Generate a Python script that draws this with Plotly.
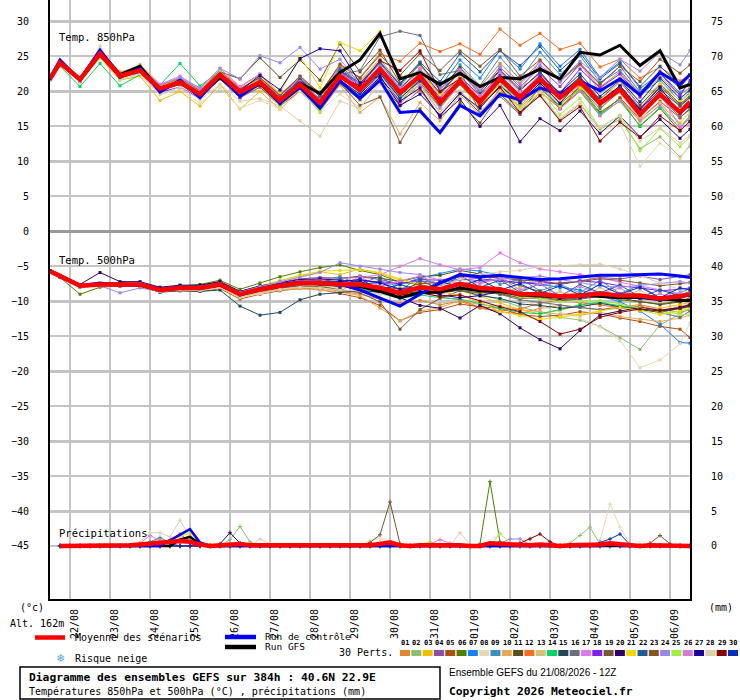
import plotly.graph_objects as go

# forecast hours (from 21/08 12Z) of the temperature points, 12-hourly after day 1
T_HOURS = [0, 6, 18, 30, 42, 54, 66, 78, 90, 102, 114, 126, 138, 150, 162, 174, 186,
           198, 210, 222, 234, 246, 258, 270, 282, 294, 306, 318, 330, 342, 354, 366, 378, 384]
# 6-hourly precipitation steps
P_HOURS = list(range(6, 385, 6))
DAY_HOURS = list(range(12, 384, 24))
DAY_LABELS = ['22/08', '23/08', '24/08', '25/08', '26/08', '27/08', '28/08', '29/08',
              '30/08', '31/08', '01/09', '02/09', '03/09', '04/09', '05/09', '06/09']

LEFT_TICKS = [30, 25, 20, 15, 10, 5, 0, -5, -10, -15, -20, -25, -30, -35, -40, -45]
THICK_TICKS = [30, 20, 10, -10, -20, -30, -40]
RIGHT_TICKS = [75, 70, 65, 60, 55, 50, 45, 40, 35, 30, 25, 20, 15, 10, 5, 0]

MEMBER_COLORS = ['#e8822e', '#88c070', '#f0c000', '#8850b0', '#b05010', '#508000',
                 '#1080ff', '#e8d8b0', '#3890c0', '#e8a858', '#604c1c', '#f86c20',
                 '#d0c078', '#00d860', '#204858', '#687078', '#e078f0', '#8020f0',
                 '#785830', '#300070', '#f0d800', '#205c98', '#885420', '#9888f0',
                 '#a0f040', '#d878d8', '#1800a0', '#e0d0a8', '#880000', '#0030c0']

# ---- Temp 850 hPa ----
T850_MEAN = [21.8, 24.1, 21.7, 25.4, 22.2, 23.0, 20.4, 21.3, 19.6, 22.4, 19.9, 21.3, 18.7, 21.0, 18.4, 22.2, 20.2,
             23.2, 19.8, 22.2, 18.4, 21.5, 18.5, 21.8, 19.1, 21.8, 19.1, 21.5, 18.3, 20.3, 16.7, 19.6, 17.0, 18.5]
T850_CTRL = [21.9, 24.5, 21.6, 25.9, 22.0, 23.3, 19.9, 21.6, 19.1, 22.3, 19.3, 21.2, 18.3, 20.6, 17.6, 21.5, 19.0,
             21.6, 17.0, 17.2, 14.1, 18.0, 16.5, 19.6, 18.8, 20.5, 19.6, 21.5, 20.1, 21.8, 19.5, 22.7, 21.0, 22.4]
T850_GFS = [21.8, 24.2, 21.8, 25.8, 22.4, 23.6, 20.2, 21.4, 19.4, 22.0, 19.6, 21.1, 18.5, 21.2, 19.7, 22.7, 24.5,
            28.3, 21.8, 22.7, 21.0, 22.6, 20.7, 22.0, 21.8, 23.2, 21.8, 25.6, 25.2, 26.6, 23.7, 25.8, 20.5, 21.0]
T850_M01 = [21.9, 24.0, 21.5, 25.2, 22.6, 23.8, 21.0, 21.8, 20.3, 23.0, 20.6, 22.4, 19.5, 22.0, 19.8, 23.5, 21.5,
            24.6, 21.0, 23.8, 20.1, 23.4, 20.6, 24.0, 21.2, 24.3, 21.5, 23.8, 20.6, 22.8, 19.4, 22.1, 19.5, 20.6]
T850_M02 = [21.7, 24.2, 21.8, 25.3, 22.0, 22.6, 20.0, 21.2, 19.3, 22.0, 19.4, 20.8, 18.0, 20.4, 17.6, 21.5, 19.3,
            22.4, 18.8, 21.1, 17.0, 20.1, 16.8, 19.9, 16.9, 19.5, 16.0, 18.2, 14.6, 16.0, 11.8, 13.5, 10.6, 12.2]
T850_M03 = [21.6, 23.8, 21.4, 24.8, 21.6, 22.2, 18.7, 20.0, 17.9, 21.0, 17.5, 20.0, 17.4, 20.2, 17.0, 21.3, 19.0,
            22.0, 18.4, 21.6, 17.6, 21.0, 17.7, 20.8, 18.0, 20.6, 17.6, 20.1, 16.9, 19.0, 15.6, 18.1, 15.5, 17.0]
T850_M04 = [21.8, 24.1, 21.9, 25.6, 22.4, 23.3, 20.7, 21.9, 20.1, 22.9, 20.4, 22.0, 19.4, 21.9, 19.6, 23.0, 21.0,
            24.0, 20.5, 23.0, 19.6, 22.8, 20.0, 23.5, 20.6, 23.4, 20.7, 23.9, 21.0, 23.6, 19.9, 22.9, 20.5, 22.4]
T850_M05 = [21.8, 24.0, 21.6, 25.1, 22.1, 22.8, 20.1, 21.0, 19.2, 21.8, 19.1, 20.6, 17.9, 20.0, 17.3, 21.0, 18.8,
            21.4, 17.9, 20.2, 16.5, 19.8, 16.9, 20.2, 17.6, 20.5, 17.8, 20.0, 16.6, 19.1, 16.0, 18.6, 16.2, 17.6]
T850_M06 = [21.9, 24.3, 21.8, 25.5, 22.3, 23.1, 20.5, 21.6, 19.9, 22.6, 19.9, 21.5, 18.8, 21.3, 18.9, 22.8, 20.5,
            23.6, 19.5, 21.3, 17.8, 21.0, 18.0, 21.4, 18.6, 21.5, 18.2, 20.6, 17.0, 18.9, 15.0, 17.6, 14.3, 15.8]
T850_M07 = [21.7, 24.0, 21.7, 25.3, 22.0, 22.9, 20.2, 21.2, 19.5, 22.3, 19.7, 21.6, 19.0, 21.8, 19.5, 23.3, 21.2,
            24.3, 20.8, 23.9, 20.7, 24.5, 21.9, 25.9, 23.2, 26.8, 23.6, 26.0, 22.0, 24.2, 20.4, 22.6, 19.8, 21.2]
T850_M08 = [21.6, 23.9, 21.3, 24.9, 21.7, 22.4, 19.5, 20.3, 18.3, 20.5, 17.6, 18.7, 17.5, 20.0, 17.2, 19.6, 17.7,
            21.0, 17.5, 20.6, 16.9, 20.2, 17.1, 20.0, 16.8, 19.3, 15.9, 18.0, 14.2, 15.4, 9.3, 12.6, 10.4, 12.5]
T850_M09 = [21.8, 24.1, 21.8, 25.4, 22.3, 23.2, 20.6, 21.5, 19.8, 22.7, 20.2, 21.8, 19.2, 21.5, 18.9, 22.4, 20.0,
            22.9, 19.3, 22.8, 19.6, 23.8, 20.8, 24.9, 21.7, 25.6, 22.4, 25.1, 21.3, 23.0, 19.6, 21.6, 18.6, 19.9]
T850_M10 = [21.8, 24.2, 21.9, 25.7, 22.8, 23.5, 20.9, 21.7, 19.8, 22.5, 19.7, 21.0, 18.2, 20.3, 17.7, 20.9, 17.0,
            19.2, 13.9, 18.4, 15.8, 19.5, 16.6, 20.4, 17.8, 21.1, 18.4, 21.0, 17.8, 20.0, 16.5, 19.2, 16.8, 18.1]
T850_M11 = [21.8, 24.0, 21.4, 25.0, 22.0, 22.9, 20.3, 21.6, 20.0, 22.8, 21.8, 24.8, 22.0, 24.5, 21.6, 26.8, 22.8,
            25.9, 21.2, 24.0, 20.3, 23.4, 20.0, 23.1, 20.3, 22.6, 19.6, 22.0, 18.9, 21.4, 18.0, 21.0, 18.2, 19.4]
T850_M12 = [21.9, 24.2, 21.8, 25.6, 22.5, 23.4, 20.8, 21.8, 19.9, 22.8, 20.3, 21.9, 19.4, 22.0, 19.8, 23.7, 22.0,
            25.4, 24.3, 26.9, 25.7, 26.8, 25.3, 28.9, 26.6, 28.3, 26.0, 26.9, 23.5, 24.6, 21.9, 23.5, 21.5, 22.3]
T850_M13 = [21.7, 23.9, 21.6, 25.2, 22.1, 23.1, 20.4, 21.4, 19.8, 22.6, 20.2, 21.7, 18.9, 21.4, 18.8, 22.3, 20.4,
            23.6, 20.2, 22.7, 19.3, 22.3, 19.0, 22.6, 19.7, 22.2, 19.2, 21.6, 18.0, 19.8, 16.0, 18.4, 15.2, 16.3]
T850_M14 = [21.8, 23.6, 20.7, 24.0, 20.8, 22.4, 20.9, 24.0, 20.8, 22.9, 19.6, 21.0, 18.6, 20.8, 18.0, 21.6, 19.6,
            22.6, 19.1, 21.8, 18.0, 21.2, 18.1, 21.1, 18.3, 20.9, 17.9, 20.3, 16.8, 18.6, 15.1, 17.7, 14.8, 16.5]
T850_M15 = [21.8, 24.1, 21.7, 25.3, 22.2, 22.9, 20.2, 21.0, 19.3, 22.1, 19.6, 21.1, 18.4, 20.9, 18.2, 21.9, 20.0,
            23.3, 20.4, 23.1, 19.8, 22.9, 19.6, 23.0, 20.1, 22.8, 19.5, 22.1, 18.6, 20.7, 17.3, 20.2, 17.9, 19.1]
T850_M16 = [21.8, 24.1, 21.8, 25.5, 22.3, 23.1, 20.5, 21.5, 19.7, 22.4, 20.0, 21.3, 18.6, 20.8, 18.1, 22.4, 23.0,
            27.8, 28.6, 28.0, 22.4, 23.0, 16.9, 19.3, 16.7, 19.9, 17.6, 20.6, 17.5, 20.1, 16.6, 19.3, 16.3, 17.4]
T850_M17 = [21.9, 24.2, 21.9, 25.7, 22.6, 23.5, 21.0, 22.2, 20.4, 23.3, 20.7, 22.5, 19.6, 22.1, 19.2, 22.8, 19.9,
            22.1, 18.2, 21.0, 17.6, 21.1, 18.2, 22.8, 20.0, 24.4, 21.3, 24.1, 19.9, 21.9, 17.5, 19.7, 15.0, 15.2]
T850_M18 = [21.8, 24.0, 21.6, 25.0, 22.0, 22.7, 19.9, 20.6, 19.0, 21.8, 19.1, 21.5, 18.9, 21.6, 19.4, 22.9, 20.8,
            23.0, 19.7, 22.5, 19.1, 22.1, 19.4, 22.3, 19.5, 22.4, 19.8, 23.2, 20.5, 22.5, 19.2, 22.6, 19.4, 21.6]
T850_M19 = [21.7, 23.9, 21.5, 25.0, 21.9, 22.8, 20.2, 21.1, 19.4, 22.2, 19.6, 21.0, 18.3, 20.6, 17.9, 21.2, 18.0,
            19.2, 12.7, 17.5, 14.3, 18.4, 15.5, 19.6, 16.9, 20.6, 17.5, 20.9, 17.9, 20.8, 17.6, 20.7, 18.0, 19.2]
T850_M20 = [21.8, 24.1, 21.7, 25.3, 22.1, 22.9, 20.3, 21.1, 19.4, 22.2, 19.7, 21.1, 18.5, 20.8, 18.2, 21.7, 19.4,
            22.0, 18.6, 20.5, 16.3, 18.9, 15.0, 18.0, 12.8, 16.1, 14.4, 17.2, 14.0, 16.5, 13.5, 16.0, 13.3, 14.6]
T850_M21 = [21.8, 24.1, 21.6, 25.4, 22.3, 23.2, 20.6, 21.5, 19.8, 22.6, 20.0, 22.0, 19.8, 25.0, 20.5, 27.0, 25.8,
            28.6, 22.0, 23.0, 19.5, 22.0, 18.0, 20.8, 17.4, 19.9, 17.8, 20.5, 18.7, 21.4, 18.5, 21.1, 18.7, 19.6]
T850_M22 = [21.8, 24.1, 21.8, 25.4, 22.2, 23.0, 20.4, 21.3, 19.6, 22.5, 20.0, 21.6, 19.1, 21.7, 19.3, 23.0, 21.2,
            24.1, 21.0, 24.2, 21.4, 25.4, 22.8, 25.8, 23.7, 26.4, 23.0, 25.5, 21.8, 24.0, 20.7, 23.6, 20.9, 22.4]
T850_M23 = [21.8, 24.0, 21.7, 25.3, 22.2, 23.0, 20.5, 21.6, 19.9, 22.8, 20.3, 22.0, 19.4, 22.2, 19.7, 23.9, 21.9,
            25.2, 22.3, 25.4, 23.0, 25.8, 23.6, 26.0, 22.2, 24.5, 21.6, 24.0, 21.1, 23.6, 21.4, 24.6, 22.6, 23.8]
T850_M24 = [21.8, 24.2, 21.9, 25.6, 22.5, 23.4, 20.9, 22.0, 20.5, 23.3, 21.8, 25.1, 24.1, 26.3, 23.2, 24.6, 21.0,
            23.5, 20.6, 23.1, 20.4, 23.0, 20.1, 23.4, 21.0, 23.8, 21.5, 24.3, 22.0, 24.6, 22.9, 25.6, 23.8, 25.8]
T850_M25 = [21.8, 24.1, 21.7, 25.3, 22.2, 23.4, 20.7, 21.7, 19.9, 22.9, 20.1, 21.2, 17.9, 20.3, 17.2, 21.5, 19.5,
            22.8, 19.8, 22.1, 18.6, 21.4, 18.2, 21.0, 17.6, 20.4, 16.7, 19.0, 14.8, 16.6, 11.5, 14.7, 12.1, 13.5]
T850_M26 = [21.8, 24.0, 21.7, 25.4, 22.3, 23.1, 20.5, 21.5, 19.8, 22.6, 20.1, 21.5, 18.9, 21.4, 18.8, 22.6, 20.7,
            23.6, 20.5, 23.3, 20.2, 23.1, 19.4, 22.0, 18.3, 20.6, 17.5, 20.0, 16.5, 18.7, 15.8, 18.0, 14.7, 16.2]
T850_M27 = [21.8, 24.1, 21.7, 25.3, 22.3, 23.1, 20.4, 21.3, 19.7, 22.4, 20.1, 22.3, 20.2, 24.7, 26.1, 25.8, 21.2,
            22.2, 18.0, 19.6, 16.6, 19.7, 17.6, 20.8, 18.4, 21.2, 18.3, 21.6, 18.6, 20.8, 17.4, 20.6, 16.8, 17.9]
T850_M28 = [21.7, 23.9, 21.4, 26.5, 21.7, 22.5, 19.6, 20.6, 18.8, 21.0, 18.6, 19.0, 17.9, 15.8, 13.6, 18.6, 17.6,
            21.4, 19.0, 22.0, 18.6, 21.5, 18.4, 20.9, 17.3, 19.8, 16.2, 18.4, 14.9, 16.5, 12.9, 14.8, 12.6, 13.7]
T850_M29 = [21.8, 24.1, 21.7, 25.4, 22.2, 23.0, 20.4, 21.3, 19.6, 22.3, 19.9, 21.2, 18.6, 20.9, 18.3, 22.0, 20.8,
            24.4, 23.0, 25.8, 20.0, 21.8, 17.9, 20.6, 17.0, 19.4, 15.8, 17.8, 12.9, 15.6, 13.4, 16.5, 14.4, 15.7]
T850_M30 = [21.8, 24.1, 21.8, 25.5, 22.4, 23.2, 20.6, 21.5, 19.7, 22.3, 19.6, 20.9, 18.2, 20.5, 17.8, 21.6, 19.6,
            22.6, 19.0, 21.6, 18.2, 21.2, 18.9, 21.5, 19.4, 22.0, 19.8, 22.5, 19.3, 21.6, 18.5, 21.9, 19.0, 20.2]

# ---- Temp 500 hPa ----
T500_MEAN = [-5.7, -6.4, -7.8, -7.6, -7.6, -7.6, -8.4, -8.1, -8.1, -7.6, -9.0, -8.3, -7.8, -7.4, -7.4, -7.6, -7.6,
             -8.1, -8.8, -8.0, -8.3, -7.5, -8.1, -8.3, -9.0, -9.0, -9.3, -9.2, -8.9, -9.2, -9.2, -9.6, -9.3, -9.0]
T500_CTRL = [-5.6, -6.5, -7.8, -7.4, -7.7, -7.6, -8.3, -8.0, -8.2, -7.5, -9.1, -8.2, -7.6, -7.3, -7.3, -7.6, -8.4,
             -9.6, -10.7, -9.0, -7.4, -6.2, -6.5, -6.3, -6.6, -6.9, -6.8, -6.5, -6.3, -6.3, -6.2, -6.1, -6.4, -6.6]
T500_GFS = [-5.7, -6.4, -7.7, -7.6, -7.5, -7.7, -8.4, -8.1, -8.1, -7.7, -9.0, -8.3, -7.8, -7.4, -7.5, -7.6, -7.9,
            -8.6, -9.5, -8.8, -8.7, -8.1, -8.5, -8.6, -9.1, -9.3, -9.4, -9.1, -9.3, -9.5, -9.4, -9.7, -9.9, -9.9]
T500_M01 = [-5.7, -6.5, -7.9, -7.7, -7.9, -7.8, -8.6, -8.3, -8.0, -7.4, -9.2, -8.7, -8.3, -8.0, -8.1, -8.6, -9.0,
            -9.7, -10.3, -9.9, -10.5, -10.0, -11.0, -11.5, -11.8, -11.0, -10.6, -10.9, -11.2, -10.8, -10.5, -11.1, -11.6, -11.2]
T500_M02 = [-5.6, -6.3, -7.7, -7.5, -7.4, -7.5, -8.3, -8.2, -8.3, -7.8, -9.3, -8.4, -8.0, -7.6, -7.8, -8.0, -7.9,
            -8.4, -9.0, -8.4, -8.6, -8.2, -9.0, -9.8, -10.8, -11.5, -12.3, -12.7, -13.6, -15.2, -16.9, -13.4, -11.8, -11.0]
T500_M03 = [-5.8, -6.4, -7.8, -7.5, -7.5, -7.6, -8.3, -7.9, -7.8, -7.3, -8.6, -7.8, -7.0, -6.3, -5.8, -6.2, -5.4,
            -6.0, -7.0, -7.3, -8.0, -8.5, -9.3, -10.2, -11.2, -11.8, -11.3, -10.6, -10.1, -10.9, -11.4, -11.0, -10.5, -10.2]
T500_M04 = [-5.7, -6.4, -7.8, -7.6, -7.5, -7.5, -8.2, -7.8, -7.7, -7.2, -8.6, -7.9, -7.3, -6.8, -6.6, -6.7, -6.5,
            -6.9, -7.5, -7.1, -7.4, -6.8, -7.1, -7.0, -7.4, -7.2, -7.6, -7.1, -6.6, -6.8, -6.4, -6.9, -6.5, -6.2]
T500_M05 = [-5.7, -6.5, -8.0, -7.8, -7.8, -7.9, -8.7, -8.5, -8.6, -8.2, -9.7, -9.0, -8.5, -8.2, -8.3, -8.9, -9.5,
            -10.6, -12.8, -11.6, -11.2, -10.4, -10.8, -11.0, -11.9, -12.2, -12.0, -11.5, -11.8, -12.4, -12.9, -13.6, -14.0, -15.2]
T500_M06 = [-5.6, -6.6, -9.0, -8.0, -7.8, -7.4, -8.1, -7.8, -7.6, -7.0, -8.3, -7.4, -6.5, -5.8, -5.2, -4.8, -5.6,
            -6.2, -7.3, -7.6, -8.3, -7.7, -8.6, -9.0, -9.6, -9.4, -9.8, -9.6, -9.2, -9.8, -10.1, -10.4, -10.0, -9.5]
T500_M07 = [-5.7, -6.4, -7.7, -7.5, -7.6, -7.7, -8.5, -8.2, -8.2, -7.8, -9.0, -8.5, -8.2, -7.9, -7.7, -7.8, -7.5,
            -7.4, -7.6, -6.7, -6.1, -5.4, -5.7, -6.3, -7.2, -7.6, -8.1, -8.4, -9.2, -10.1, -11.4, -13.3, -15.9, -16.0]
T500_M08 = [-5.7, -6.3, -7.7, -7.6, -7.7, -7.8, -8.6, -8.4, -8.5, -8.1, -9.5, -8.9, -8.3, -7.8, -7.9, -8.1, -8.0,
            -8.4, -8.9, -8.3, -8.1, -6.9, -7.6, -8.6, -9.8, -10.7, -11.6, -12.4, -13.7, -15.6, -19.5, -18.4, -16.1, -13.1]
T500_M09 = [-5.7, -6.4, -7.8, -7.6, -7.6, -7.6, -8.4, -8.0, -8.0, -7.5, -8.9, -8.1, -7.6, -7.2, -7.0, -6.5, -7.6,
            -6.4, -8.4, -6.6, -7.8, -6.9, -5.9, -7.6, -6.8, -8.5, -7.6, -8.8, -7.0, -8.9, -7.7, -9.6, -8.8, -8.2]
T500_M10 = [-5.8, -6.5, -7.9, -7.8, -7.8, -7.8, -8.7, -8.4, -8.4, -8.0, -9.4, -8.8, -8.4, -8.2, -8.4, -8.7, -9.2,
            -11.0, -12.8, -11.4, -10.9, -9.9, -10.5, -10.7, -11.2, -11.5, -11.9, -12.0, -11.6, -12.2, -12.6, -12.9, -12.4, -12.0]
T500_M11 = [-5.7, -6.4, -7.8, -7.5, -7.4, -7.4, -8.2, -7.9, -7.9, -7.4, -8.7, -8.0, -7.5, -7.1, -6.9, -6.8, -6.4,
            -6.7, -7.2, -6.5, -6.3, -5.6, -6.1, -6.8, -7.8, -8.6, -9.2, -9.5, -9.1, -9.6, -10.0, -10.5, -10.1, -9.8]
T500_M12 = [-5.6, -6.3, -7.7, -7.5, -7.5, -7.5, -8.3, -8.0, -8.0, -7.4, -8.8, -8.1, -7.6, -7.2, -7.1, -7.3, -7.4,
            -8.0, -8.9, -8.7, -9.4, -9.8, -10.9, -11.4, -11.1, -10.3, -9.8, -10.2, -10.6, -10.9, -10.7, -11.3, -10.8, -10.4]
T500_M13 = [-5.7, -6.4, -7.8, -7.6, -7.6, -7.6, -8.5, -8.2, -8.3, -7.9, -9.3, -8.6, -8.1, -7.8, -7.7, -8.5, -7.2,
            -8.9, -8.0, -8.8, -7.4, -8.3, -7.1, -8.9, -8.0, -9.7, -8.6, -9.8, -8.0, -9.6, -8.4, -10.1, -9.3, -8.8]
T500_M14 = [-5.7, -6.4, -7.7, -7.5, -7.5, -7.4, -8.2, -7.8, -7.8, -7.3, -8.8, -8.1, -7.6, -7.3, -7.5, -7.9, -8.2,
            -8.9, -9.6, -9.1, -9.5, -9.7, -10.4, -11.0, -11.6, -11.8, -11.2, -10.5, -10.2, -10.6, -11.0, -11.5, -11.1, -10.8]
T500_M15 = [-5.7, -6.4, -7.8, -7.6, -7.7, -7.8, -8.7, -8.5, -8.6, -8.4, -10.7, -12.0, -11.6, -9.8, -9.0, -8.8, -8.5,
            -8.7, -9.0, -8.6, -8.9, -8.4, -9.2, -9.6, -10.4, -10.6, -11.0, -10.8, -10.3, -10.8, -11.2, -11.6, -11.0, -10.6]
T500_M16 = [-5.7, -6.4, -7.8, -7.6, -7.6, -7.7, -8.5, -8.2, -8.3, -7.8, -9.2, -8.5, -8.0, -7.6, -7.5, -7.7, -7.6,
            -8.1, -8.8, -8.0, -8.3, -7.6, -8.4, -9.0, -9.8, -10.2, -10.6, -10.9, -11.2, -11.0, -10.8, -11.6, -12.3, -11.4]
T500_M17 = [-5.7, -6.4, -7.8, -7.6, -7.6, -7.5, -8.3, -8.0, -8.0, -7.5, -8.9, -8.1, -7.6, -7.1, -6.9, -6.8, -6.6,
            -6.2, -5.0, -3.9, -4.8, -5.5, -5.2, -3.1, -4.5, -5.4, -5.8, -6.2, -6.6, -7.3, -7.8, -8.4, -8.9, -9.4]
T500_M18 = [-5.7, -6.4, -7.8, -7.6, -7.6, -7.6, -8.4, -8.1, -8.1, -7.6, -9.0, -8.2, -7.7, -7.3, -7.2, -7.3, -7.1,
            -7.2, -7.5, -6.9, -7.0, -6.5, -6.8, -7.1, -7.4, -7.6, -7.4, -7.1, -7.3, -7.8, -8.1, -8.5, -8.3, -8.1]
T500_M19 = [-5.7, -6.5, -7.9, -7.7, -7.8, -7.8, -8.6, -8.3, -8.4, -7.9, -9.3, -8.6, -8.1, -7.8, -7.9, -8.3, -8.8,
            -10.1, -14.0, -11.2, -9.6, -8.5, -8.8, -8.9, -9.5, -9.6, -9.9, -9.7, -9.3, -9.4, -9.5, -9.9, -9.4, -9.1]
T500_M20 = [-5.7, -6.3, -7.6, -5.9, -7.2, -7.2, -8.0, -7.7, -7.7, -7.2, -8.6, -7.8, -7.3, -6.9, -6.8, -7.0, -7.2,
            -8.1, -9.5, -10.6, -11.0, -12.4, -10.6, -11.8, -13.8, -15.5, -16.8, -14.2, -12.0, -11.4, -10.9, -11.3, -10.9, -10.5]
T500_M21 = [-5.7, -6.4, -7.8, -7.6, -7.6, -7.5, -8.3, -8.0, -8.0, -7.5, -8.8, -8.0, -7.3, -6.5, -5.7, -5.6, -5.5,
            -5.9, -6.8, -7.6, -8.6, -9.2, -10.1, -11.5, -12.1, -12.6, -12.3, -11.9, -11.4, -10.9, -11.3, -11.9, -11.4, -11.0]
T500_M22 = [-5.7, -6.4, -7.8, -7.6, -7.6, -7.6, -8.4, -8.1, -8.1, -7.6, -9.0, -8.3, -7.7, -7.3, -7.2, -6.8, -7.9,
            -7.0, -9.2, -7.0, -8.3, -6.3, -8.0, -7.0, -8.7, -7.5, -9.3, -7.6, -8.8, -7.7, -9.4, -8.4, -9.2, -8.6]
T500_M23 = [-5.7, -6.5, -7.9, -7.7, -7.7, -7.7, -8.5, -8.2, -8.2, -7.8, -9.2, -8.4, -7.9, -7.5, -7.4, -7.6, -7.5,
            -7.9, -8.3, -7.5, -7.3, -6.4, -6.6, -6.6, -7.0, -7.1, -7.5, -7.2, -6.8, -7.0, -7.4, -7.8, -7.5, -7.3]
T500_M24 = [-5.7, -6.5, -8.0, -7.8, -8.8, -8.1, -8.6, -8.2, -8.1, -7.5, -8.7, -7.9, -7.2, -6.6, -5.9, -4.5, -5.0,
            -5.4, -5.9, -6.2, -7.0, -7.4, -7.3, -6.9, -6.6, -6.4, -6.9, -7.3, -7.8, -8.0, -7.7, -7.4, -7.2, -7.4]
T500_M25 = [-5.7, -6.4, -7.8, -7.6, -7.6, -7.6, -8.4, -8.1, -8.1, -7.6, -9.0, -8.3, -7.8, -7.4, -7.3, -7.5, -7.5,
            -8.0, -8.7, -8.0, -8.2, -7.6, -8.2, -8.6, -9.4, -9.6, -10.1, -10.0, -9.9, -10.4, -10.9, -11.5, -11.8, -12.0]
T500_M26 = [-5.7, -6.4, -7.8, -7.6, -7.6, -7.6, -8.4, -8.1, -8.0, -7.5, -8.9, -8.2, -7.7, -7.2, -7.1, -7.8, -6.5,
            -7.9, -7.1, -6.4, -7.6, -6.0, -7.5, -6.6, -8.4, -7.5, -9.2, -7.9, -8.9, -8.1, -9.8, -8.9, -9.9, -9.0]
T500_M27 = [-5.7, -6.4, -7.8, -7.6, -7.6, -7.6, -8.4, -8.1, -8.1, -7.6, -9.0, -8.3, -7.8, -7.4, -7.3, -7.2, -6.9,
            -7.4, -8.3, -8.1, -9.1, -9.5, -9.2, -8.6, -8.9, -9.1, -9.6, -9.5, -9.1, -9.4, -9.6, -9.9, -9.5, -9.2]
T500_M28 = [-5.7, -6.4, -7.9, -7.7, -7.7, -7.7, -8.6, -8.4, -8.5, -8.0, -9.4, -8.8, -8.3, -8.0, -8.1, -8.4, -8.5,
            -9.0, -9.4, -8.7, -8.0, -6.8, -6.2, -5.8, -5.6, -5.0, -4.9, -4.8, -4.7, -5.4, -6.3, -7.4, -8.3, -8.8]
T500_M29 = [-5.7, -6.4, -7.8, -7.6, -7.6, -7.6, -8.4, -8.1, -8.1, -7.7, -9.1, -8.4, -7.9, -7.5, -7.5, -7.7, -7.8,
            -8.4, -9.1, -8.8, -9.3, -9.1, -10.0, -10.8, -11.5, -12.9, -14.7, -14.0, -12.3, -11.6, -11.1, -11.4, -11.0, -10.7]
T500_M30 = [-5.7, -6.4, -7.8, -7.6, -7.6, -7.6, -8.4, -8.1, -8.1, -7.6, -9.0, -8.3, -7.8, -7.4, -7.3, -8.0, -6.8,
            -8.4, -7.6, -8.5, -7.2, -7.9, -6.9, -8.4, -7.5, -8.9, -7.8, -9.1, -7.6, -9.0, -8.0, -9.5, -8.1, -8.4]

# ---- Precipitation (mm / 6h), 64 steps ----
P_MEAN = [0, 0, 0, 0, .1, 0, 0, .1,  .2, .3, .4, .5, .7, .6, .2, 0,  .1, .2, .3, .1, .1, 0, 0, 0,
          0, 0, 0, 0, 0, 0, .1, .1,  .3, .5, .1, 0, .1, .1, .2, .1,  .1, 0, 0, .4, .3, .2, .1, .1,
          .2, .1, 0, .1, .1, .2, .2, .4,  .3, .1, 0, .1, .1, .1, .1, 0]
P_CTRL = [0, 0, 0, 0, 0, 0, 0, 0,  0, 0, 0, .8, 1.6, 2.4, .5, 0,  0, 0, 0, 0, 0, 0, 0, 0,
          0, 0, 0, 0, 0, 0, 0, 0,  0, 0, 0, 0, 0, 0, 0, 0,  0, 0, 0, 0, 0, 0, 0, 0,
          0, 0, 0, 0, 0, 0, 0, .2,  0, 0, 0, 0, 0, 0, 0, 0]
P_GFS = [0, 0, 0, 0, 0, 0, 0, 0,  0, 0, 0, 0, .9, 1.3, .3, 0,  0, 0, 0, 0, 0, 0, 0, 0,
         0, 0, 0, 0, 0, 0, 0, 0,  0, 0, 0, 0, 0, 0, 0, 0,  0, 0, 0, 0, 0, 0, 0, 0,
         0, 0, 0, 0, 0, 0, 0, 0,  0, 0, 0, 0, 0, 0, 0, 0]
P_M02 = [0, 0, 0, 0, 0, 0, 0, 0,  0, 0, 0, 0, 0, 0, 0, 0,  0, .9, 2.8, .6, 0, 0, 0, 0,
         0, 0, 0, 0, 0, 0, 0, 0,  0, 0, 0, 0, 0, 0, 0, 0,  0, 0, 0, 0, 0, 0, 0, 0,
         0, 0, 0, .4, 1.5, 2.7, .2, 0,  0, 0, 0, 0, 0, 0, 0, 0]
P_M03 = [0, 0, 0, 0, 0, 0, 0, 0,  0, .5, 1.0, .4, 1.0, 1.4, .2, 0,  0, 0, 0, 0, 0, 0, 0, 0,
         0, 0, 0, 0, 0, 0, 0, 0,  0, 0, 0, 0, 0, 0, 0, 0,  0, 0, 0, 0, 0, 0, 0, 0,
         0, 0, 0, 0, 0, 0, 0, 0,  0, 0, 0, 0, 0, 0, 0, 0]
P_M06 = [0, 0, 0, 0, 0, 0, 0, 0,  0, 0, 0, 0, 0, 0, 0, 0,  0, 0, 0, 0, 0, 0, 0, 0,
         0, 0, 0, 0, 0, 0, 0, 0,  0, 0, 0, 0, 0, 0, 0, 0,  0, 0, .3, 9.2, .6, 0, 0, 0,
         0, 0, 0, 0, 0, 0, 0, 0,  0, 0, 0, 0, 0, 0, 0, 0]
P_M08 = [0, 0, 0, 0, 0, 0, 0, 0,  0, 0, 0, 0, 0, 0, 0, 0,  0, 0, 0, 0, 0, 0, 0, 0,
         0, 0, 0, 0, 0, 0, 0, .8,  1.1, .5, 0, 0, 0, 0, 0, 0,  0, 0, 0, 0, 0, 0, 0, 0,
         0, 0, 0, 0, 0, 0, .8, 6.0,  2.7, .3, 0, 0, 0, 0, 0, 0]
P_M09 = [0, 0, 0, 0, 0, 0, 0, 0,  0, .6, 1.2, .5, 0, 0, 0, 0,  0, 0, 0, 0, 0, 0, 0, 0,
         0, 0, 0, 0, 0, 0, 0, 0,  0, 0, 0, 0, 0, 0, 0, 0,  0, 0, 0, 0, 0, 0, 0, 0,
         0, 0, 0, 0, 0, 0, 0, 0,  0, 0, 0, 0, 0, 0, 0, 0]
P_M10 = [0, 0, 0, 0, 0, 0, 0, 0,  0, 0, 0, 0, 0, 0, 0, 0,  0, 0, 0, 0, 0, 0, 0, 0,
         0, 0, 0, 0, 0, 0, 0, 0,  .5, .8, .3, 0, 0, 0, 0, 0,  0, 0, 0, 0, 0, 0, 0, 0,
         0, 0, 0, 0, 0, 0, 0, 0,  0, 0, 0, 0, 0, 0, 0, 0]
P_M16 = [0, 0, 0, 0, 0, 0, 0, 0,  0, 0, 0, .9, 1.7, .6, 0, 0,  0, 0, 0, 0, 0, 0, 0, 0,
         0, 0, 0, 0, 0, 0, 0, 0,  0, 0, 0, 0, 0, 0, 0, 0,  0, 0, 0, 0, 0, 0, 0, 0,
         0, 0, 0, 0, 0, 0, 0, 0,  0, 0, 0, 0, 0, 0, 0, 0]
P_M17 = [0, 0, 0, 0, 0, 0, 0, 0,  .4, 1.5, .8, 0, 0, 0, 0, 0,  0, 0, 0, 0, 0, 0, 0, 0,
         0, 0, 0, 0, 0, 0, 0, 0,  0, 0, 0, 0, 0, 0, 0, 0,  0, 0, 0, 0, 0, 0, 0, 0,
         0, 0, 0, 0, 0, 0, 0, 0,  0, 0, 0, 0, 0, 0, 0, 0]
P_M19 = [0, 0, 0, 0, 0, 0, 0, 0,  0, 0, 0, 0, 0, 0, 0, 0,  0, 0, 0, 0, 0, 0, 0, 0,
         0, 0, 0, 0, 0, 0, 0, .5,  1.6, 6.3, .3, 0, 0, 0, 0, 0,  0, 0, 0, 0, 0, 0, 0, 0,
         0, 0, 0, 0, 0, 0, 0, 0,  0, 0, 0, .4, 1.5, .3, 0, 0]
P_M20 = [0, 0, 0, 0, 0, 0, 0, 0,  0, 0, 0, 0, 0, 0, 0, 0,  .3, 1.9, .4, 0, 0, 0, 0, 0,
         0, 0, 0, 0, 0, 0, 0, 0,  0, 0, 0, 0, 0, 0, 0, 0,  0, 0, 0, 0, 0, 0, 0, 0,
         0, 0, 0, 0, 0, 0, 0, 0,  0, 0, 0, 0, 0, 0, 0, 0]
P_M21 = [0, 0, 0, 0, 0, 0, 0, 0,  0, 0, 0, 0, 1.4, 1.8, .5, 0,  0, 0, 0, 0, 0, 0, 0, 0,
         0, 0, 0, 0, 0, 0, 0, 0,  0, 0, 0, 0, 0, 0, 0, 0,  0, 0, 0, 0, 0, 0, 0, 0,
         0, 0, 0, 0, 0, 0, 0, 0,  0, 0, 0, 0, 0, 0, 0, 0]
P_M24 = [0, 0, 0, 0, 0, 0, 0, 0,  0, 0, 0, 0, 0, 0, 0, 0,  0, 0, 0, 0, 0, 0, 0, 0,
         0, 0, 0, 0, 0, 0, 0, 0,  0, 0, 0, 0, 0, 0, 0, 0,  0, 0, 0, 0, .4, 1.0, 1.0, .2,
         0, 0, 0, 0, 0, 0, 0, 0,  0, 0, 0, 0, 0, 0, 0, 0]
P_M25 = [0, 0, 0, 0, 0, 0, 0, 0,  0, 0, 0, 0, 0, 0, 0, 0,  0, 0, 0, 0, 0, 0, 0, 0,
         0, 0, 0, 0, 0, 0, 0, 0,  0, 0, 0, 0, .2, .6, .2, 0,  0, 0, 0, 0, 1.8, .4, 0, 0,
         0, 0, 0, 0, 0, 0, 0, 0,  0, 0, 0, 0, 0, 0, 0, 0]
P_M26 = [0, 0, 0, 0, 0, 0, 0, 0,  0, 0, 0, 0, 0, 0, 0, 0,  0, 0, 0, 0, 0, 0, 0, 0,
         0, 0, 0, 0, 0, 0, 0, 0,  0, 0, 0, 0, 0, .3, .9, .4,  0, 0, 0, 0, 0, 0, 0, 0,
         0, 0, 0, 0, 0, 0, 0, 0,  0, 0, 0, 0, 0, 0, 0, 0]
P_M28 = [0, 0, 0, 0, 0, 0, 0, 0,  .6, 1.9, 1.9, 1.3, 3.7, 1.2, .3, 0,  0, 0, 0, 0, 1.0, .3, 0, 0,
         0, 0, 0, 0, 0, 0, 0, 0,  0, 0, 0, 0, 0, 0, 0, 0,  1.9, .2, 0, 0, 0, 0, 0, 0,
         0, 0, 0, 0, 0, 0, 0, 0,  0, 0, 0, 0, 0, 0, 0, 0]
P_M29 = [0, 0, 0, 0, 0, 0, 0, 0,  0, 0, 0, 0, 0, 0, 0, 0,  0, 0, 0, 0, 0, 0, 0, 0,
         0, 0, 0, 0, 0, 0, 0, 0,  0, 0, 0, 0, 0, 0, 0, 0,  0, 0, 0, 0, 0, 0, .4, 1.0,
         1.7, .6, 0, 0, 0, 0, 0, 0,  0, 0, 0, 0, 0, 0, 0, 0]
P_M30 = [0, 0, 0, 0, 0, 0, 0, 0,  0, 0, 0, 0, 0, 0, 0, 0,  0, 0, 0, 0, 0, 0, 0, 0,
         0, 0, 0, 0, 0, 0, 0, 0,  0, 0, 0, 0, 0, 0, 0, 0,  0, 0, 0, 0, 0, 0, 0, 0,
         0, 0, 0, 0, 0, 0, .5, 1.0,  1.7, .2, 0, 0, 0, 0, 0, 0]

MEMBERS_850 = [T850_M01, T850_M02, T850_M03, T850_M04, T850_M05, T850_M06, T850_M07, T850_M08,
               T850_M09, T850_M10, T850_M11, T850_M12, T850_M13, T850_M14, T850_M15, T850_M16,
               T850_M17, T850_M18, T850_M19, T850_M20, T850_M21, T850_M22, T850_M23, T850_M24,
               T850_M25, T850_M26, T850_M27, T850_M28, T850_M29, T850_M30]
MEMBERS_500 = [T500_M01, T500_M02, T500_M03, T500_M04, T500_M05, T500_M06, T500_M07, T500_M08,
               T500_M09, T500_M10, T500_M11, T500_M12, T500_M13, T500_M14, T500_M15, T500_M16,
               T500_M17, T500_M18, T500_M19, T500_M20, T500_M21, T500_M22, T500_M23, T500_M24,
               T500_M25, T500_M26, T500_M27, T500_M28, T500_M29, T500_M30]
MEMBERS_P = [(2, P_M02), (3, P_M03), (6, P_M06), (8, P_M08), (9, P_M09), (10, P_M10),
             (16, P_M16), (17, P_M17), (19, P_M19), (20, P_M20), (21, P_M21), (24, P_M24),
             (25, P_M25), (26, P_M26), (28, P_M28), (29, P_M29), (30, P_M30)]

for i, s in enumerate(MEMBERS_850 + MEMBERS_500 + [T850_MEAN, T850_CTRL, T850_GFS, T500_MEAN, T500_CTRL, T500_GFS]):
    if len(s) != len(T_HOURS):
        raise ValueError('temperature series %d has %d values' % (i, len(s)))
for n, s in MEMBERS_P + [(0, P_MEAN), (-1, P_CTRL), (-2, P_GFS)]:
    if len(s) != len(P_HOURS):
        raise ValueError('precip series %d has %d values' % (n, len(s)))

# ---- page geometry (pixels) ----
W, H = 740, 700
ML, MR, MT, MB = 50, 50, 0, 101
PW, PH = W - ML - MR, H - MT - MB
Y_TOP, Y_BOT = 33.07, -52.58   # left axis range, right axis = left + 45
MONO = 'DejaVu Sans Mono'


def px(x):
    return (x - ML) / PW


def py(y):
    return (H - MB - y) / PH


fig = go.Figure()

for k in range(30):
    c = MEMBER_COLORS[k]
    for series in (MEMBERS_850[k], MEMBERS_500[k]):
        fig.add_trace(go.Scatter(x=T_HOURS, y=series, mode='lines+markers',
                                 line=dict(color=c, width=1),
                                 marker=dict(color=c, size=3, symbol='square'),
                                 showlegend=False, hoverinfo='skip'))

for series, c, w in ((T850_GFS, '#000000', 3), (T500_GFS, '#000000', 3),
                     (T850_CTRL, '#0000ff', 3), (T500_CTRL, '#0000ff', 3),
                     (T850_MEAN, '#ff0000', 4.5), (T500_MEAN, '#ff0000', 4.5)):
    fig.add_trace(go.Scatter(x=T_HOURS, y=series, mode='lines', line=dict(color=c, width=w),
                             showlegend=False, hoverinfo='skip'))

# precipitation on the right axis
for n, series in MEMBERS_P:
    c = MEMBER_COLORS[n - 1]
    fig.add_trace(go.Scatter(x=P_HOURS, y=series, yaxis='y2', mode='lines+markers',
                             line=dict(color=c, width=1),
                             marker=dict(color=c, size=3, symbol='cross-thin-open', line=dict(width=1, color=c)),
                             showlegend=False, hoverinfo='skip'))
for series, c, w in ((P_GFS, '#000000', 2.5), (P_CTRL, '#0000ff', 2.5), (P_MEAN, '#ff0000', 4.5)):
    fig.add_trace(go.Scatter(x=P_HOURS, y=series, yaxis='y2', mode='lines', line=dict(color=c, width=w),
                             showlegend=False, hoverinfo='skip'))

tickfont = dict(family=MONO, size=10, color='#000000')

fig.update_layout(
    width=W, height=H,
    margin=dict(l=ML, r=MR, t=MT, b=MB, pad=0),
    paper_bgcolor='white', plot_bgcolor='white',
    showlegend=False,
    xaxis=dict(range=[0, 384], tickvals=DAY_HOURS, ticktext=DAY_LABELS, tickangle=-90,
               ticklabelshift=5, ticklabelstandoff=4, tickfont=tickfont,
               showgrid=True, gridcolor='#c4c4c4', gridwidth=2, zeroline=False,
               showline=True, linecolor='#000000', linewidth=2, ticks=''),
    yaxis=dict(range=[Y_BOT, Y_TOP], tickvals=LEFT_TICKS, tickfont=tickfont,
               showgrid=True, gridcolor='#c4c4c4', gridwidth=2,
               zeroline=True, zerolinecolor='#9a9a9a', zerolinewidth=3,
               showline=True, linecolor='#000000', linewidth=2,
               ticks='outside', ticklen=17, tickcolor='rgba(0,0,0,0)'),
    yaxis2=dict(range=[Y_BOT + 45, Y_TOP + 45], overlaying='y', side='right', tickvals=RIGHT_TICKS,
                tickfont=tickfont, showgrid=False, zeroline=False,
                showline=True, linecolor='#000000', linewidth=2,
                ticks='outside', ticklen=17, tickcolor='rgba(0,0,0,0)'),
    yaxis3=dict(range=[Y_BOT, Y_TOP], overlaying='y', tickvals=THICK_TICKS, showticklabels=False,
                showgrid=True, gridcolor='#c4c4c4', gridwidth=3, zeroline=False, showline=False, ticks=''),
)
# empty trace so the thick-grid axis is drawn
fig.add_trace(go.Scatter(x=[None], y=[None], yaxis='y3', showlegend=False, hoverinfo='skip'))

annotations = []


def text(x, y, s, size=10, color='#000000', anchor='left', family=MONO):
    annotations.append(dict(x=px(x), y=py(y), xref='paper', yref='paper', text=s, showarrow=False,
                            xanchor=anchor, yanchor='middle',
                            font=dict(family=family, size=size, color=color)))


text(57, 37, 'Temp. 850hPa', size=10.5)
text(57, 260, 'Temp. 500hPa', size=10.5)
text(57, 533, 'Précipitations', size=10.5)
text(18, 607, '(°c)')
text(8, 623, 'Alt. 162m')
text(707, 607, '(mm)')
text(73, 637, 'Moyenne des scénarios')
text(263, 636, 'Run de contrôle', size=9.5)
text(263, 647, 'Run GFS', size=9.5)
text(60, 658, '❄', size=11, color='#5aa8e8', anchor='center', family='DejaVu Sans')
text(73, 658, 'Risque neige')
text(337, 652, '30 Perts.')
text(27, 677, '<b>Diagramme des ensembles GEFS sur 384h : 40.6N 22.9E</b>', size=11.3)
text(27, 691, 'Températures 850hPa et 500hPa (°C) , précipitations (mm)', size=10)
text(447, 672, 'Ensemble GEFS du 21/08/2026 - 12Z', size=10, family='Liberation Sans Narrow, Liberation Sans')
text(447, 691, '<b>Copyright 2026 Meteociel.fr</b>', size=11.3)

shapes = []
for x0, x1, y, c in ((35, 65, 637.5, '#ff0000'), (225, 256, 637, '#0000ff'), (225, 256, 647, '#000000')):
    shapes.append(dict(type='line', xref='paper', yref='paper', x0=px(x0), x1=px(x1), y0=py(y), y1=py(y),
                       line=dict(color=c, width=4.5)))
for k, c in enumerate(MEMBER_COLORS):
    xl = 400 + k * 11.31
    shapes.append(dict(type='rect', xref='paper', yref='paper', x0=px(xl), x1=px(xl + 10),
                       y0=py(656), y1=py(650), fillcolor=c, line=dict(width=0)))
    text(xl + 5, 643, '<b>%02d</b>' % (k + 1), size=7, anchor='center')
shapes.append(dict(type='rect', xref='paper', yref='paper', x0=px(20), x1=px(440), y0=py(699), y1=py(667),
                   line=dict(color='#000000', width=1.5), fillcolor='rgba(0,0,0,0)'))

fig.update_layout(annotations=annotations, shapes=shapes)

# the page is photographed from its top-left corner: drop the default body margin, no toolbar
fig.write_html('out.html', config={'displayModeBar': False},
               post_script="document.body.style.margin='0';")
